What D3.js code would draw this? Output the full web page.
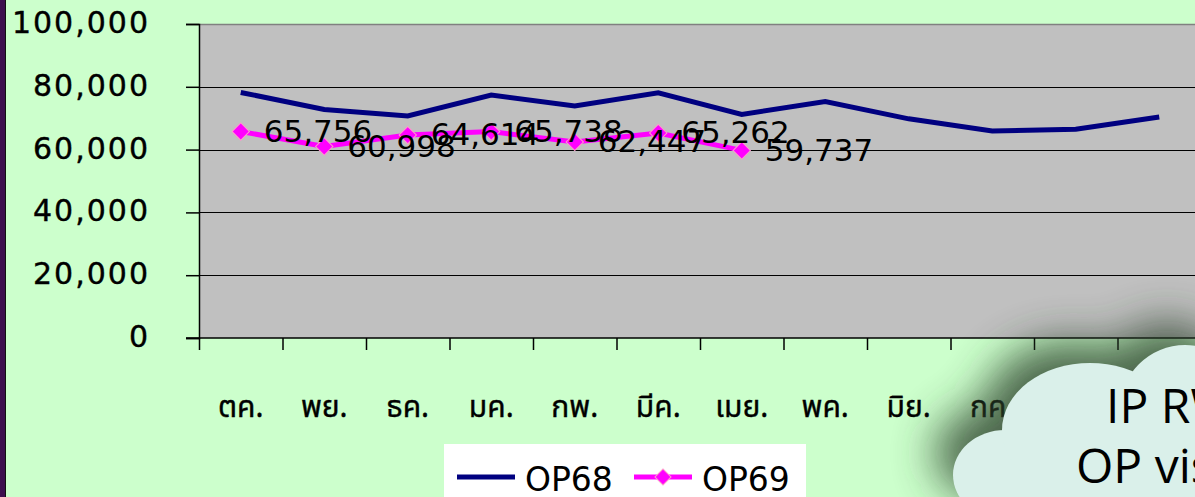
<!DOCTYPE html>
<html>
<head>
<meta charset="utf-8">
<script src="https://cdn.jsdelivr.net/npm/d3@7"></script>
<style>
  body { margin: 0; background: #ccffcc; overflow: hidden; }
  svg { display: block; }
</style>
</head>
<body>
<div id="chart"></div>
<script>
const width = 1195;
const height = 497;

// =====================
// データ
// =====================
const months = ["ตค.", "พย.", "ธค.", "มค.", "กพ.", "มีค.", "เมย.", "พค.", "มิย.", "กค.", "สค.", "กย."];
const op68 = [78200, 72800, 70700, 77400, 73900, 78100, 71200, 75300, 69800, 65900, 66500, 70400];
const op69 = [65756, 60998, 64614, 65738, 62447, 65262, 59737];
const yTicks = [0, 20000, 40000, 60000, 80000, 100000];
const seriesNames = ["OP68", "OP69"];
const cloudLines = ["IP RW", "OP visit"];

const navy = "#000080";
const magenta = "#ff00ff";

const svg = d3.select("#chart")
  .append("svg")
  .attr("width", width)
  .attr("height", height);

// 背景
svg.append("rect")
  .attr("width", width)
  .attr("height", height)
  .attr("fill", "#ccffcc");

// 左端の紫の帯
svg.append("rect")
  .attr("x", 0).attr("y", 0)
  .attr("width", 5).attr("height", height)
  .attr("fill", "#3d0f4e");
svg.append("line")
  .attr("x1", 5.5).attr("x2", 5.5)
  .attr("y1", 0).attr("y2", height)
  .attr("stroke", "#111").attr("stroke-width", 1);

// =====================
// スケール
// =====================
const plotL = 199, plotR = 1201, plotT = 24, plotB = 338;

const x = d3.scaleBand()
  .domain(months)
  .range([plotL, plotR]);

const xEdge = d3.scaleLinear()
  .domain([0, months.length])
  .range([plotL, plotR]);

const y = d3.scaleLinear()
  .domain([0, 100000])
  .range([plotB, plotT]);

const cx = i => x(months[i]) + x.bandwidth() / 2;

// プロットエリア
svg.append("rect")
  .attr("x", plotL).attr("y", plotT)
  .attr("width", plotR - plotL).attr("height", plotB - plotT)
  .attr("fill", "#c0c0c0");

svg.append("line")
  .attr("x1", plotL).attr("x2", plotR)
  .attr("y1", plotT + 0.5).attr("y2", plotT + 0.5)
  .attr("stroke", "#808080").attr("stroke-width", 1.5);

// 目盛線
svg.append("g")
  .selectAll("line")
  .data(yTicks.filter(d => d > 0 && d < 100000))
  .join("line")
  .attr("x1", plotL).attr("x2", plotR)
  .attr("y1", d => Math.round(y(d)) + 0.5)
  .attr("y2", d => Math.round(y(d)) + 0.5)
  .attr("stroke", "#000").attr("stroke-width", 1.2);

// Y軸
const yAxis = svg.append("g")
  .attr("transform", `translate(${plotL},0)`)
  .call(d3.axisLeft(y).tickValues(yTicks).tickSize(13).tickPadding(36).tickFormat(d3.format(",")));
yAxis.select(".domain").attr("stroke", "#000").attr("stroke-width", 1.5);
yAxis.selectAll(".tick line").attr("stroke", "#000").attr("stroke-width", 1.5);
yAxis.selectAll(".tick text")
  .attr("font-family", "DejaVu Sans, sans-serif")
  .attr("font-size", 30)
  .attr("letter-spacing", 2)
  .attr("stroke", "#000")
  .attr("stroke-width", 0.4)
  .attr("dy", "0.28em")
  .attr("fill", "#000");

// X軸（目盛は区切り位置）
const xAxis = svg.append("g")
  .attr("transform", `translate(0,${plotB})`)
  .call(d3.axisBottom(xEdge).ticks(months.length).tickSize(12).tickFormat(""));
xAxis.select(".domain").remove();
xAxis.selectAll(".tick line").attr("stroke", "#000").attr("stroke-width", 1.5);
svg.append("line")
  .attr("x1", 186).attr("x2", plotR)
  .attr("y1", plotB).attr("y2", plotB)
  .attr("stroke", "#000").attr("stroke-width", 1.5);

// 月ラベル
const xLab = svg.append("g")
  .attr("transform", `translate(0,${plotB})`)
  .call(d3.axisBottom(x).tickSize(0).tickPadding(58));
xLab.select(".domain").remove();
xLab.selectAll(".tick text")
  .attr("font-family", "Noto Sans Thai, Noto Sans, DejaVu Sans, sans-serif")
  .attr("font-size", 30)
  .attr("stroke", "#000")
  .attr("stroke-width", 0.4)
  .attr("fill", "#000");

// =====================
// 折れ線
// =====================
const line = d3.line()
  .x((d, i) => cx(i))
  .y(d => y(d));

svg.append("path")
  .datum(op68)
  .attr("d", line)
  .attr("fill", "none")
  .attr("stroke", navy)
  .attr("stroke-width", 5);

svg.append("path")
  .datum(op69)
  .attr("d", line)
  .attr("fill", "none")
  .attr("stroke", magenta)
  .attr("stroke-width", 5);

svg.append("g")
  .selectAll("path")
  .data(op69)
  .join("path")
  .attr("transform", (d, i) => `translate(${cx(i)},${y(d)}) rotate(45)`)
  .attr("d", d3.symbol().type(d3.symbolSquare).size(150))
  .attr("fill", magenta)
  .attr("stroke", "#ff99cc")
  .attr("stroke-width", 1);

// データラベル
svg.append("g")
  .selectAll("text")
  .data(op69)
  .join("text")
  .attr("x", (d, i) => cx(i) + 23)
  .attr("y", d => y(d) - 1)
  .attr("dy", "0.36em")
  .attr("font-family", "DejaVu Sans, sans-serif")
  .attr("font-size", 31)
  .attr("fill", "#000")
  .text(d => d3.format(",")(d));

// =====================
// 凡例
// =====================
const legend = svg.append("g");
legend.append("rect")
  .attr("x", 444).attr("y", 444)
  .attr("width", 362).attr("height", 60)
  .attr("fill", "#fff");

legend.append("line")
  .attr("x1", 457).attr("x2", 515)
  .attr("y1", 477).attr("y2", 477)
  .attr("stroke", navy).attr("stroke-width", 5);
legend.append("line")
  .attr("x1", 634).attr("x2", 692)
  .attr("y1", 477).attr("y2", 477)
  .attr("stroke", magenta).attr("stroke-width", 5);
legend.append("path")
  .attr("transform", "translate(663,477) rotate(45)")
  .attr("d", d3.symbol().type(d3.symbolSquare).size(130))
  .attr("fill", magenta)
  .attr("stroke", "#ff99cc");

legend.selectAll("text")
  .data(seriesNames)
  .join("text")
  .attr("x", (d, i) => i === 0 ? 525 : 702)
  .attr("y", 491)
  .attr("font-family", "DejaVu Sans, sans-serif")
  .attr("font-size", 33)
  .attr("fill", "#000")
  .text(d => d);

// =====================
// 雲形吹き出し
// =====================
const cloudParts = [
  { type: "ellipse", cx: 1005, cy: 475, rx: 52, ry: 45 },
  { type: "ellipse", cx: 1090, cy: 430, rx: 88, ry: 67 },
  { type: "ellipse", cx: 1185, cy: 410, rx: 65, ry: 65 },
  { type: "rect", x: 1050, y: 410, w: 210, h: 120 }
];

const defs = svg.append("defs");
defs.append("filter")
  .attr("id", "cloudShadow")
  .attr("x", "-50%").attr("y", "-50%")
  .attr("width", "200%").attr("height", "200%")
  .append("feGaussianBlur")
  .attr("stdDeviation", 22);

function drawCloud(g) {
  cloudParts.forEach(p => {
    if (p.type === "ellipse") {
      g.append("ellipse")
        .attr("cx", p.cx).attr("cy", p.cy)
        .attr("rx", p.rx).attr("ry", p.ry);
    } else {
      g.append("rect")
        .attr("x", p.x).attr("y", p.y)
        .attr("width", p.w).attr("height", p.h);
    }
  });
}

const shadow = svg.append("g")
  .attr("fill", "#2b3f2b")
  .attr("opacity", 0.8)
  .attr("filter", "url(#cloudShadow)")
  .attr("transform", "translate(-18,-22)");
drawCloud(shadow);

const cloud = svg.append("g").attr("fill", "#daf0ea");
drawCloud(cloud);

svg.append("g")
  .selectAll("text")
  .data(cloudLines)
  .join("text")
  .attr("x", (d, i) => i === 0 ? 1106 : 1076)
  .attr("y", (d, i) => i === 0 ? 423 : 483)
  .attr("font-family", "Open Sans, sans-serif")
  .attr("font-size", 48)
  .attr("fill", "#000")
  .text(d => d);
</script>
</body>
</html>
